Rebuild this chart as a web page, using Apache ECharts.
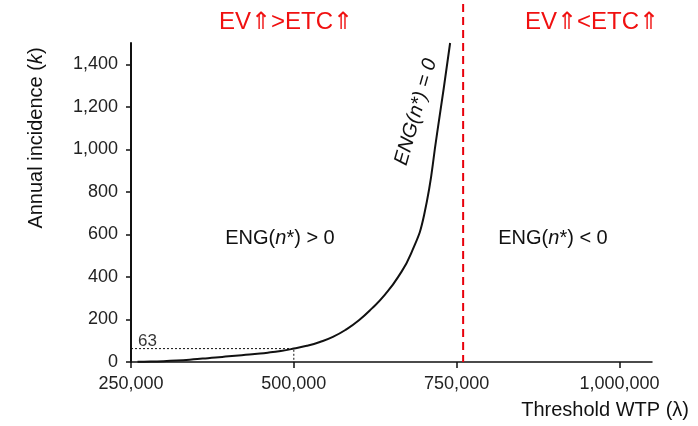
<!DOCTYPE html>
<html><head><meta charset="utf-8">
<script src="https://cdn.jsdelivr.net/npm/echarts@6/dist/echarts.min.js"></script>
<style>html,body{margin:0;padding:0;background:#fff}#c{width:698px;height:426px}</style>
</head><body><div id="c"></div>
<script>
var wtp = [260000, 280000, 300000, 320000, 340000, 360000, 380000, 400000, 420000, 440000, 460000, 480000, 500000,
           520000, 540000, 560000, 580000, 600000, 620000, 640000, 660000, 680000, 700000, 720000, 740000];
var incidence = [1, 2, 4, 7, 11, 16, 21, 27, 32, 38, 44, 52, 63,
                 76, 94, 118, 152, 196, 252, 317, 399, 510, 690, 1075, 1500];
var refPoint = [500000, 63];
var boundaryWTP = 760000;
var xTicks = [250000, 500000, 750000, 1000000];
var yTicks = [0, 200, 400, 600, 800, 1000, 1200, 1400];

var FONT = '"Liberation Sans", Arial, sans-serif';
var chart = echarts.init(document.getElementById('c'));
function fmt(v){ return v.toLocaleString('en-US'); }
var richNI = function(size){ return {
  n: {fontSize: size, fontFamily: FONT, fill: '#111'},
  i: {fontSize: size, fontFamily: FONT, fill: '#111', fontStyle: 'italic'}
}; };

chart.setOption({
  animation: false,
  grid: {left: 131, right: 46, top: 43, bottom: 64},
  xAxis: {
    type: 'value', min: 250000, max: 1050000, interval: 250000,
    axisLine: {onZero: false, lineStyle: {color: '#111', width: 1.5}},
    axisTick: {customValues: xTicks, length: 6, lineStyle: {color: '#111', width: 1.5}},
    axisLabel: {customValues: xTicks, formatter: fmt, color: '#222', fontSize: 18, fontFamily: FONT, margin: 13},
    splitLine: {show: false}
  },
  yAxis: {
    type: 'value', min: 0, max: 1500, interval: 200,
    axisLine: {show: true, lineStyle: {color: '#111', width: 2}},
    axisTick: {show: true, customValues: yTicks, length: 5, lineStyle: {color: '#111', width: 1.5}},
    axisLabel: {customValues: yTicks, formatter: fmt, color: '#222', fontSize: 18, fontFamily: FONT, margin: 13},
    splitLine: {show: false}
  },
  series: [
    {
      type: 'line', data: wtp.map(function(x, i){ return [x, incidence[i]]; }),
      smooth: 0.5, symbol: 'none', lineStyle: {color: '#111', width: 2}, z: 5
    },
    {
      type: 'line',
      data: [[250000, refPoint[1]], refPoint, [refPoint[0], 0]],
      symbol: 'none', lineStyle: {color: '#111', width: 1, type: [2, 2]}, z: 3
    },
    {
      type: 'scatter', symbolSize: 0, silent: true,
      data: [[250000, refPoint[1]]],
      label: {show: true, position: 'top', align: 'left', offset: [7, 6], formatter: String(refPoint[1]), color: '#000', fontSize: 17, fontFamily: FONT}
    },
    {
      type: 'custom',
      data: [[boundaryWTP, 0]],
      renderItem: function(params, api){
        var p = api.coord([api.value(0), api.value(1)]);
        return {type: 'line', shape: {x1: p[0], y1: 4, x2: p[0], y2: p[1]},
          style: {stroke: '#e8000b', lineWidth: 2, lineDash: [8, 5]}};
      },
      clip: false, z: 2
    }
  ],
  graphic: [
    {type: 'text', x: 286, y: 22, style: {text: 'EV⇑>ETC⇑', fill: '#f01010', fontSize: 24, fontFamily: FONT, align: 'center', verticalAlign: 'middle'}},
    {type: 'text', x: 592, y: 22, style: {text: 'EV⇑<ETC⇑', fill: '#f01010', fontSize: 24, fontFamily: FONT, align: 'center', verticalAlign: 'middle'}},
    {type: 'text', x: 280, y: 238, style: {text: '{n|ENG(}{i|n}{n|*) > 0}', align: 'center', verticalAlign: 'middle', rich: richNI(20)}},
    {type: 'text', x: 553, y: 238, style: {text: '{n|ENG(}{i|n}{n|*) < 0}', align: 'center', verticalAlign: 'middle', rich: richNI(20)}},
    {type: 'text', x: 416, y: 112, rotation: 74 * Math.PI / 180, style: {text: 'ENG(n*) = 0', fontSize: 20, fontFamily: FONT, fill: '#111', fontStyle: 'italic', align: 'center', verticalAlign: 'middle'}},
    {type: 'text', x: 36, y: 138, rotation: Math.PI / 2, style: {text: '{n|Annual incidence (}{i|k}{n|)}', align: 'center', verticalAlign: 'middle', rich: richNI(20)}},
    {type: 'text', x: 689, y: 410, style: {text: 'Threshold WTP (λ)', fontSize: 20, fontFamily: FONT, fill: '#111', align: 'right', verticalAlign: 'middle'}}
  ]
});
</script></body></html>
